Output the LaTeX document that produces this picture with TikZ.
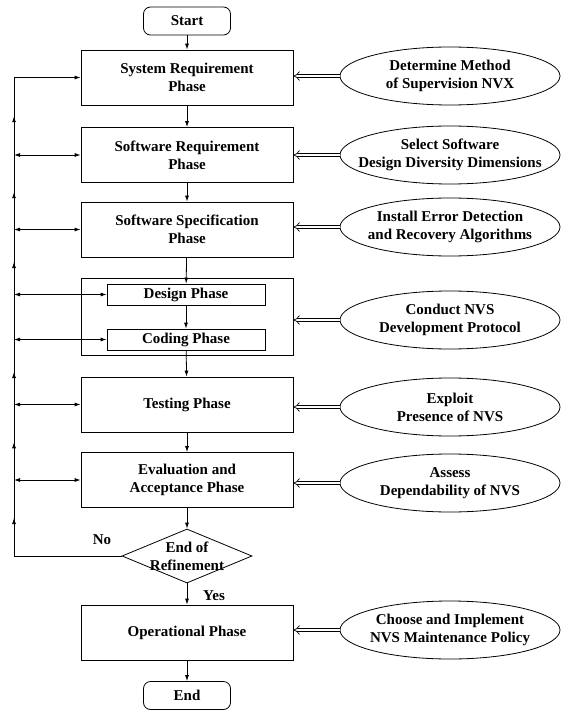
\documentclass[tikz,border=0pt]{standalone}
\usepackage{fontspec}
\setmainfont{Liberation Serif}
\usetikzlibrary{arrows,arrows.meta,shapes.geometric,calc}

\begin{document}
\begin{tikzpicture}[x=1pt,y=-1pt,>={Latex[length=6pt,width=4pt]},line width=0.8pt,
    font=\bfseries\fontsize{15}{18}\selectfont,
    phase/.style={draw,minimum width=212pt,minimum height=55pt,align=center,inner sep=0pt},
    sub/.style={phase,minimum width=158pt,minimum height=21pt},
    term/.style={draw,rounded corners=7pt,minimum width=87pt,minimum height=28pt,inner sep=0pt},
    goal/.style={ellipse,draw,minimum width=220pt,minimum height=58pt,inner sep=0pt},
    test/.style={diamond,draw,minimum width=130pt,minimum height=54pt,inner sep=0pt},
    feed/.style={double,double distance=2.6pt,line width=0.7pt,-{Implies[length=4pt]}}]
    \useasboundingbox (0,0) rectangle (561,711);

    \node[term] (S) at (187,21) {Start};
    \node[phase] (SR) at (187,77.5) {System Requirement\\Phase};
    \node[phase] (SW) at (187,155) {Software Requirement\\Phase};
    \node[phase] (SS) at (187,229.5) {Software Specification\\Phase};
    \node[phase,minimum height=77pt] (CT) at (187,316.5) {};
    \node[sub] (DE) at (186,294.5) {Design Phase};
    \node[sub] (CO) at (186,339.5) {Coding Phase};
    \node[phase] (TE) at (187,404.5) {Testing Phase};
    \node[phase] (EV) at (187,480) {Evaluation and\\Acceptance Phase};
    \node[test] (D) at (187,556) {};
    \node[align=center] (Dt) at (D) {End of\\Refinement};
    \node[phase] (OP) at (187,632.5) {Operational Phase};
    \node[term] (E) at (187,695.5) {End};

    \draw[->] (S) -- (SR);
    \draw[->] (SR) -- (SW);
    \draw[->] (SW) -- (SS);
    \draw[->] (SS) -- (DE);
    \draw[->] (DE) -- (CO);
    \draw[->] (CO) -- (TE);
    \draw[->] (TE) -- (EV);
    \draw[->] (EV) -- (D);
    \draw[->] (D) -- (OP);
    \draw[->] (OP) -- (E);

    \node (no) at (102,540) {No};
    \node (yes) at (214,596) {Yes};

    \coordinate (L) at (14,0);
    \draw[->] (D.west) -- (D.west -| L) -- (SR.west -| L) -- (SR.west);
    \foreach \n in {SW,SS,DE,CO,TE,EV}
        \draw[<->] (\n.west -| L) -- (\n.west);
    \foreach \a/\b in {D/EV,EV/TE,TE/CO,DE/SS,SS/SW,SW/SR}
        \draw[->] (\a.west -| L) -- ($(\a.west -| L)!0.5!(\b.west -| L)$);

    \node[goal] (E1) at (450,76) {};
    \node[align=center] (t1) at (E1) {Determine Method\\of Supervision NVX};
    \node[goal] (E2) at (450,155) {};
    \node[align=center] (t2) at (E2) {Select Software\\Design Diversity Dimensions};
    \node[goal] (E3) at (450,227) {};
    \node[align=center] (t3) at (E3) {Install Error Detection\\and Recovery Algorithms};
    \node[goal] (E4) at (450,320) {};
    \node[align=center] (t4) at (E4) {Conduct NVS\\Development Protocol};
    \node[goal] (E5) at (450,407) {};
    \node[align=center] (t5) at (E5) {Exploit\\Presence of NVS};
    \node[goal] (E6) at (450,483) {};
    \node[align=center] (t6) at (E6) {Assess\\Dependability of NVS};
    \node[goal] (E7) at (450,630) {};
    \node[align=center] (t7) at (E7) {Choose and Implement\\NVS Maintenance Policy};

    \foreach \e/\n in {E1/SR,E2/SW,E3/SS,E4/CT,E5/TE,E6/EV,E7/OP}
        \draw[feed] (\e.west) -- (\e.west -| \n.east);
\end{tikzpicture}
\end{document}
